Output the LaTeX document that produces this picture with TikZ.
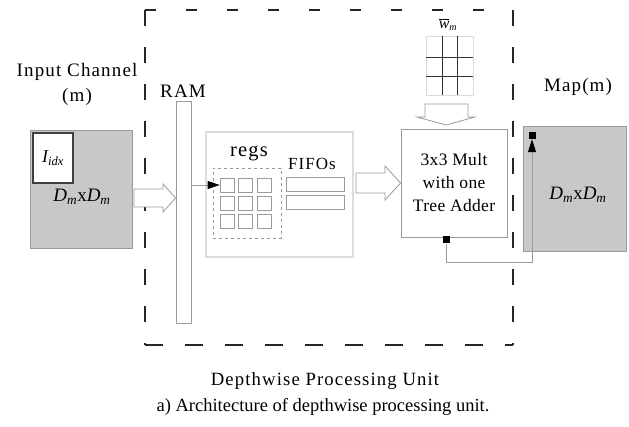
\documentclass[tikz,border=0pt]{standalone}
\usepackage{fontspec}
\setmainfont{Liberation Serif}
\newfontfamily\vfont[LetterSpace=6]{Liberation Serif}
\newfontfamily\mfont[LetterSpace=2]{Liberation Serif}
\usetikzlibrary{arrows.meta}
\definecolor{boxgray}{HTML}{C8C8C8}
\definecolor{edgegray}{HTML}{9A9A9A}
\definecolor{lightedge}{HTML}{DCDCDC}
\begin{document}
\begin{tikzpicture}[x=1pt,y=-1pt,
  lbl/.style={font=\vfont\fontsize{19}{21}\selectfont, inner sep=0pt, anchor=center},
  plainbox/.style={draw=edgegray, line width=0.8pt, inner sep=0pt, fill=white},
  graybox/.style={draw=edgegray, line width=0.8pt, fill=boxgray, inner sep=0pt},
  regbox/.style={draw=edgegray, line width=0.8pt, minimum width=14pt, minimum height=14pt, inner sep=0pt},
  hollow/.style={draw=edgegray, line width=0.8pt, fill=white},
  dashline/.style={line width=2pt, color=black!85},
  tinysq/.style={fill=black, minimum size=7pt, inner sep=0pt},
  wire/.style={draw=edgegray, line width=0.8pt},
  dmtext/.style={font=\fontsize{19}{21}\selectfont, inner sep=0pt}
]
\useasboundingbox (0,0) rectangle (629,427);

% dashed processing unit boundary
\coordinate (tl) at (145,10);
\coordinate (tr) at (513,10);
\coordinate (br) at (513,345);
\coordinate (bl) at (145,345);
\draw[dashline, dash pattern=on 11pt off 30pt] (tl) -- (tr);
\draw[dashline, dash pattern=on 16pt off 21pt] (tr) -- (br);
\draw[dashline, dash pattern=on 18pt off 22pt] (bl) -- (br);
\draw[dashline, dash pattern=on 16pt off 21pt] (tl) -- (bl);

% input channel
\node[lbl] (inlab) at (77,72) {Input Channel};
\node[lbl] (inm) at (77,97) {(m)};
\node[graybox, minimum width=102pt, minimum height=118pt] (inch) at (81,189) {};
\node[draw=black!75, line width=1.5pt, fill=white, minimum width=40pt, minimum height=50pt, inner sep=0pt] (idx) at (53,158) {};
\node[font=\fontsize{18}{20}\selectfont, inner sep=0pt] (idxt) at (idx.center) {\itshape I\textsubscript{idx}};
\node[dmtext] (indm) at (82,197) {\itshape D\textsubscript{m}\upshape x\itshape D\textsubscript{m}};

% RAM
\node[plainbox, minimum width=15pt, minimum height=222pt] (ram) at (183.5,212) {};
\node[lbl] (ramlab) at (183,91) {RAM};

% hollow arrow input -> RAM
\draw[hollow] (134,189) -- (163,189) -- (163,184) -- (ram.west |- 0,198) -- (163,212) -- (163,207) -- (134,207) -- cycle;

% regs / FIFOs block
\node[draw=lightedge, line width=1.6pt, minimum width=147pt, minimum height=125pt, inner sep=0pt] (blk) at (279.5,194.5) {};
\node[lbl, font=\vfont\fontsize{20.5}{22}\selectfont] (regslab) at (249,153) {regs};
\node[draw=edgegray, dashed, line width=0.7pt, minimum width=68pt, minimum height=70pt, inner sep=0pt] (regsd) at (247,203) {};
\foreach \i/\x in {1/227,2/245.5,3/264}{
  \foreach \j/\y in {1/185,2/203,3/221}{
    \node[regbox] (r\i\j) at (\x,\y) {};
  }
}
\node[lbl, font=\vfont\fontsize{17}{19}\selectfont] (fifolab) at (312,164) {FIFOs};
\node[regbox, minimum width=58pt] (fifo1) at (315,184) {};
\node[regbox, minimum width=58pt] (fifo2) at (315,202.5) {};
\draw[wire, -{Triangle[fill=black,color=black,length=12pt,width=8pt]}] (ram.east |- r11.west) -- (r11.west);

% multiplier
\node[plainbox, minimum width=106pt, minimum height=108pt, align=center, font=\mfont\fontsize{17.5}{23}\selectfont] (mult) at (454,183) {3x3 Mult\\with one\\Tree Adder};

% hollow arrow block -> mult
\draw[hollow] (356,173) -- (385,173) -- (385,166) -- (mult.west |- 0,183) -- (385,200) -- (385,193) -- (356,193) -- cycle;

% weight grid
\node[draw=lightedge, line width=0.8pt, minimum width=47pt, minimum height=59pt, inner sep=0pt] (wgrid) at (449.5,65.5) {};
\draw[black!80, line width=0.8pt] (442,36) -- (442,95) (457,36) -- (457,95) (426,57) -- (473,57) (426,76) -- (473,76);
\node[inner sep=0pt, font=\fontsize{16}{18}\selectfont] (wlab) at (448,25) {$\overline{\mbox{\itshape w}}_{\mbox{\fontsize{10}{11}\selectfont\itshape m}}$};

% hollow arrow weights -> mult
\draw[hollow] (425,104) -- (468,104) -- (468,117) -- (475,117) -- (446,125) -- (417,117) -- (425,117) -- cycle;

% output map
\node[lbl] (maplab) at (578,87) {Map(m)};
\node[graybox, minimum width=103pt, minimum height=125pt] (map) at (574.5,188.5) {};
\node[dmtext] (mapdm) at (578,195) {\itshape D\textsubscript{m}\upshape x\itshape D\textsubscript{m}};

% feedback wire mult -> map
\node[tinysq] (sqa) at (446,240) {};
\node[tinysq] (sqb) at (532,135.5) {};
\coordinate (c1) at (446,262);
\coordinate (c2) at (532,262);
\draw[wire] (sqa) -- (c1) -- (c2) -- (532,152);
\draw[-{Triangle[length=13pt,width=8pt]}, color=black, line width=0.8pt] (532,152) -- (sqb.south);

% captions
\node[lbl, font=\vfont\fontsize{18.7}{21}\selectfont] (unitlab) at (325,381) {Depthwise Processing Unit};
\node[inner sep=0pt, font=\fontsize{18.5}{20}\selectfont] (cap) at (323,407) {a) Architecture of depthwise processing unit.};
\end{tikzpicture}
\end{document}
